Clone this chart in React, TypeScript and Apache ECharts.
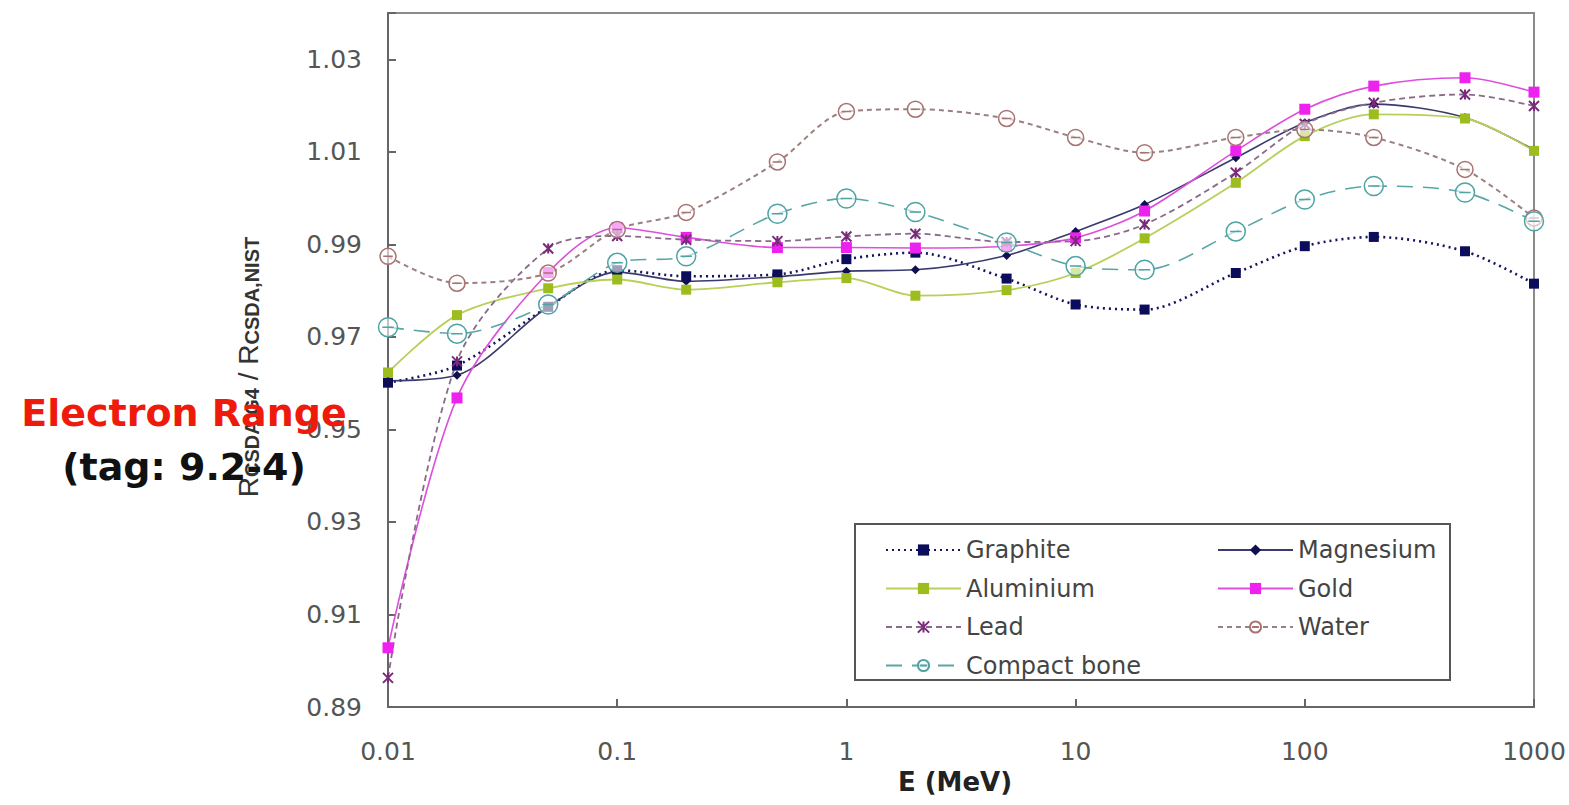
import React, { useEffect, useRef } from "react";
import * as echarts from "echarts";

// Energy (MeV)
const energies = [0.01, 0.02, 0.05, 0.1, 0.2, 0.5, 1, 2, 5, 10, 20, 50, 100, 200, 500, 1000];

// R_CSDA,G4 / R_CSDA,NIST
const graphite = [0.9601, 0.9638, 0.9765, 0.9844, 0.9831, 0.9835, 0.9868, 0.9882, 0.9826, 0.977, 0.9759, 0.9838, 0.9896, 0.9916, 0.9885, 0.9815];
const magnesium = [0.9605, 0.9617, 0.9765, 0.984, 0.982, 0.983, 0.9842, 0.9845, 0.9876, 0.9928, 0.9986, 1.0087, 1.0163, 1.0203, 1.0174, 1.0104];
const aluminium = [0.9623, 0.9747, 0.9805, 0.9824, 0.9802, 0.9818, 0.9827, 0.9789, 0.9801, 0.9838, 0.9913, 1.0033, 1.0134, 1.0181, 1.0172, 1.0102];
const gold = [0.9028, 0.9568, 0.9839, 0.9936, 0.9915, 0.9893, 0.9893, 0.9892, 0.9896, 0.9914, 0.9972, 1.0102, 1.0192, 1.0242, 1.026, 1.0229];
const lead = [0.8963, 0.9647, 0.9891, 0.9918, 0.991, 0.9907, 0.9917, 0.9923, 0.9905, 0.9907, 0.9943, 1.0055, 1.016, 1.0206, 1.0224, 1.0199];
const water = [0.9874, 0.9816, 0.9838, 0.9932, 0.9969, 1.0078, 1.0187, 1.0192, 1.0172, 1.0131, 1.0098, 1.0131, 1.0148, 1.0131, 1.0062, 0.9957];
const compactBone = [0.9721, 0.9707, 0.977, 0.986, 0.9874, 0.9966, 0.9999, 0.997, 0.9904, 0.9853, 0.9845, 0.9928, 0.9997, 1.0026, 1.0012, 0.995];

const legendLeft = ["Graphite", "Aluminium", "Lead", "Compact bone"];
const legendRight = ["Magnesium", "Gold", "Water"];

const CIRCLE_DASH = "path://M-10,0A10,10,0,1,1,10,0A10,10,0,1,1,-10,0ZM-6,0L6,0";
const STAR_X = "path://M0,0L10,10M10,0L0,10M5,0L5,10";

export default function App() {
  const ref = useRef<HTMLDivElement>(null);

  useEffect(() => {
    const chart = echarts.init(ref.current as HTMLDivElement, null, { renderer: "svg" });
    const pts = (vals: number[]) => energies.map((e, i) => [e, vals[i]]);
    const smooth = 0.3;

    const series: any[] = [
      {
        name: "Graphite",
        type: "line",
        data: pts(graphite),
        smooth,
        symbol: "rect",
        symbolSize: 10,
        lineStyle: { color: "#14145e", width: 2.6, type: [2, 4] },
        itemStyle: { color: "#0c0c5c" },
      },
      {
        name: "Magnesium",
        type: "line",
        data: pts(magnesium),
        smooth,
        symbol: "diamond",
        symbolSize: 9,
        lineStyle: { color: "#3a3a6e", width: 1.6, type: "solid" },
        itemStyle: { color: "#101050" },
      },
      {
        name: "Aluminium",
        type: "line",
        data: pts(aluminium),
        smooth,
        symbol: "rect",
        symbolSize: 10,
        lineStyle: { color: "#b8cf5a", width: 1.8, type: "solid" },
        itemStyle: { color: "#9dbd1e" },
      },
      {
        name: "Gold",
        type: "line",
        data: pts(gold),
        smooth,
        symbol: "rect",
        symbolSize: 11,
        lineStyle: { color: "#dd4fdd", width: 1.6, type: "solid" },
        itemStyle: { color: "#ee22ee" },
      },
      {
        name: "Lead",
        type: "line",
        data: pts(lead),
        smooth,
        symbol: STAR_X,
        symbolSize: 10,
        lineStyle: { color: "#8a6a8a", width: 1.8, type: [6, 4] },
        itemStyle: { color: "rgba(0,0,0,0)", borderColor: "#7a2a7a", borderWidth: 2 },
      },
      {
        name: "Water",
        type: "line",
        data: pts(water),
        smooth,
        symbol: CIRCLE_DASH,
        symbolSize: 16,
        lineStyle: { color: "#9a8080", width: 2, type: [5, 4] },
        itemStyle: { color: "rgba(255,255,255,0.6)", borderColor: "#a87272", borderWidth: 1.5 },
      },
      {
        name: "Compact bone",
        type: "line",
        data: pts(compactBone),
        smooth,
        symbol: CIRCLE_DASH,
        symbolSize: 19,
        lineStyle: { color: "#5aa6a6", width: 1.6, type: [16, 10] },
        itemStyle: { color: "rgba(255,255,255,0.6)", borderColor: "#4ea3a3", borderWidth: 1.5 },
      },
    ];

    const legendCommon = {
      orient: "vertical",
      top: 533,
      itemWidth: 75,
      itemHeight: 14,
      itemGap: 14.5,
      selectedMode: false,
      textStyle: { fontFamily: "DejaVu Sans", fontSize: 24, color: "#444", lineHeight: 24 },
    };

    const option: any = {
      animation: false,
      backgroundColor: "#ffffff",
      grid: {
        left: 388,
        right: 35,
        top: 13,
        bottom: 98,
        show: true,
        borderColor: "#8a8a8a",
        borderWidth: 2,
        containLabel: false,
        outerBoundsMode: "none",
      },
      legend: [
        { ...legendCommon, left: 880, data: legendLeft },
        { ...legendCommon, left: 1212, data: legendRight },
      ],
      xAxis: {
        type: "log",
        logBase: 10,
        min: 0.01,
        max: 1000,
        name: "E (MeV)",
        nameLocation: "middle",
        nameGap: 60,
        nameTextStyle: { fontFamily: "DejaVu Sans", fontWeight: "bold", fontSize: 26, color: "#222", padding: [0, 12, 0, 0] },
        axisLine: { show: true, onZero: false, lineStyle: { color: "#666", width: 2 } },
        axisTick: { show: true, inside: true, length: 8, lineStyle: { color: "#666", width: 2 } },
        axisLabel: {
          margin: 32,
          fontFamily: "DejaVu Sans",
          fontSize: 25,
          color: "#555",
          formatter: (v: number) => String(Number(v.toPrecision(6))),
        },
        splitLine: { show: false },
        minorTick: { show: false },
      },
      yAxis: {
        type: "value",
        min: 0.89,
        max: 1.04,
        interval: 0.02,
        name: "{a|R}{s|CSDA,G4}{a| / R}{s|CSDA,NIST}",
        nameLocation: "middle",
        nameGap: 126,
        nameTextStyle: {
          color: "#333",
          padding: [0, 14, 0, 0],
          rich: {
            a: { fontFamily: "Liberation Sans", fontSize: 28, color: "#333", lineHeight: 30, verticalAlign: "bottom" },
            s: { fontFamily: "Liberation Sans", fontSize: 20, fontWeight: "bold", color: "#333", lineHeight: 30, verticalAlign: "bottom" },
          },
        },
        axisLine: { show: true, onZero: false, lineStyle: { color: "#666", width: 2 } },
        axisTick: { show: true, inside: true, length: 8, lineStyle: { color: "#666", width: 2 } },
        axisLabel: {
          margin: 26,
          fontFamily: "DejaVu Sans",
          fontSize: 25,
          color: "#555",
          formatter: (v: number) => (v > 1.035 ? "" : v.toFixed(2)),
        },
        splitLine: { show: false },
      },
      graphic: [
        {
          type: "rect",
          z: 5,
          shape: { x: 855, y: 524, width: 595, height: 156 },
          style: { fill: "rgba(0,0,0,0)", stroke: "#555", lineWidth: 2 },
        },
        {
          type: "text",
          z: 100,
          x: 184,
          y: 413,
          style: {
            text: "Electron Range",
            fontFamily: "DejaVu Sans",
            fontWeight: "bold",
            fontSize: 38,
            fill: "#ee1a0c",
            align: "center",
            verticalAlign: "middle",
          },
        },
        {
          type: "text",
          z: 100,
          x: 184,
          y: 467,
          style: {
            text: "(tag: 9.2-4)",
            fontFamily: "DejaVu Sans",
            fontWeight: "bold",
            fontSize: 38,
            fill: "#111",
            align: "center",
            verticalAlign: "middle",
          },
        },
      ],
      series,
    };

    chart.setOption(option);
    return () => chart.dispose();
  }, []);

  return (
    <div
      ref={ref}
      style={{ position: "fixed", left: 0, top: 0, width: 1569, height: 805, background: "#fff" }}
    />
  );
}
